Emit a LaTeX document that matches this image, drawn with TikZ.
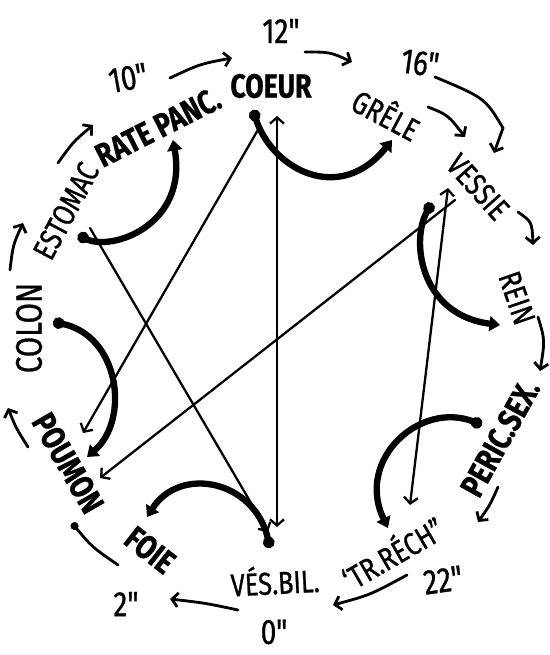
\documentclass[tikz,border=0pt]{standalone}
\usepackage{fontspec}
\usepackage{tikz}
\usetikzlibrary{arrows.meta}
\newfontfamily\handfont[FakeStretch=0.8,FakeBold=0.8]{Fira Sans}
\tikzset{
  every node/.style={inner sep=0pt},
  organ/.style={font=\handfont\fontsize{18}{18}\selectfont},
  organbig/.style={font=\handfont\fontsize{21}{21}\selectfont},
  organbold/.style={font=\handfont\bfseries\fontsize{19}{19}\selectfont},
  hour/.style={font=\handfont\fontsize{20}{20}\selectfont},
  ringedge/.style={black,line width=1.6pt,line cap=round,-{Straight Barb[length=3.5pt,width=8pt]}},
  crossedge/.style={black,line width=1.3pt,line cap=round,-{Straight Barb[length=3.5pt,width=8pt]}},
  crossboth/.style={black,line width=1.3pt,line cap=round,{Straight Barb[length=3.5pt,width=8pt]}-{Straight Barb[length=3.5pt,width=8pt]}},
  pairedge/.style={black,line width=3.6pt,line cap=round,{Circle[length=6.5pt]}-{Triangle[length=6pt,width=8.5pt]}}
}

\begin{document}
\begin{tikzpicture}[x=0.02cm,y=-0.02cm]
\useasboundingbox (0,0) rectangle (550,655);
% organs round the clock
\node[organbold] (coeur) at (271,86) {COEUR};
\node[organbold,rotate=27] (rate) at (158,127) {RATE PANC.};
\node[organ,rotate=62] (estomac) at (66,211) {ESTOMAC};
\node[organbig,rotate=90] (colon) at (29,328) {COLON};
\node[organbold,rotate=-60] (poumon) at (68,463) {POUMON};
\node[organbold,rotate=-38] (foie) at (150,550) {FOIE};
\node[organ,rotate=3] (vesbil) at (275,580) {VÉS.BIL.};
\node[organ,rotate=30] (trrech) at (392,552) {‘TR.RÉCH”};
\node[organbold,rotate=61] (peric) at (500,438) {PERIC.SEX.};
\node[organ,rotate=-71] (rein) at (517,298) {REIN};
\node[organ,rotate=-48] (vessie) at (478,187) {VESSIE};
\node[organ,rotate=-28] (grele) at (387,113) {GRÊLE};
% hours
\node[hour,rotate=10] (h10) at (128,78) {10"};
\node[hour] (h12) at (281,31) {12"};
\node[hour,rotate=-8] (h16) at (420,63) {16"};
\node[hour,rotate=8] (h22) at (443,580) {22"};
\node[hour] (h0) at (274,632) {0"};
\node[hour] (h2) at (126,604) {2"};
% ends of the ring arrows
\coordinate (R1s) at (238,610);  \coordinate (R1e) at (170,599);
\coordinate (R2s) at (118,565);  \coordinate (R2e) at (72,523);
\coordinate (R3s) at (28,447);   \coordinate (R3e) at (8,408);
\coordinate (R4s) at (10,270);   \coordinate (R4e) at (23,223);
\coordinate (R5s) at (58,163);   \coordinate (R5e) at (93,125);
\coordinate (R6s) at (170,78);   \coordinate (R6e) at (232,58);
\coordinate (R7s) at (305,52);   \coordinate (R7e) at (352,62);
\coordinate (R8s) at (428,107);  \coordinate (R8e) at (465,137);
\coordinate (R9s) at (435,77);   \coordinate (R9e) at (494,153);
\coordinate (R10s) at (518,212); \coordinate (R10e) at (533,245);
\coordinate (R11s) at (538,317); \coordinate (R11e) at (540,371);
\coordinate (R12s) at (498,487); \coordinate (R12e) at (478,522);
\coordinate (R13s) at (407,575); \coordinate (R13e) at (333,605);
% ends of the straight lines
\coordinate (Xcoeur1) at (277,116); \coordinate (Xvesbil1) at (277,527);
\coordinate (Xcoeur2) at (259,128); \coordinate (Xpoumon2) at (83,433);
\coordinate (Xestomac) at (90,228); \coordinate (Xvesbil3) at (268,532);
\coordinate (Xvessie4) at (455,200); \coordinate (Xpoumon4) at (100,478);
\coordinate (Xvessie5) at (448,188); \coordinate (Xtrrech5) at (410,505);
% ends of the thick pairs
\coordinate (Pestomac) at (78,235);  \coordinate (Prate) at (173,140);
\coordinate (Pcoeur) at (253,110);   \coordinate (Pgrele) at (392,140);
\coordinate (Pvessie) at (432,203);  \coordinate (Prein) at (500,325);
\coordinate (Pperic) at (482,425);   \coordinate (Ptrrech) at (388,528);
\coordinate (Pcolon) at (53,322);    \coordinate (Ppoumon) at (87,457);
\coordinate (Pvesbil) at (270,548);  \coordinate (Pfoie) at (147,517);
% ring of the day
\draw[ringedge] (R1s) .. controls (205,603) .. (R1e);
\draw[ringedge,-{Circle[length=4.5pt]}] (R2s) .. controls (92,547) .. (R2e);
\draw[ringedge] (R3s) .. controls (16,428) .. (R3e);
\draw[ringedge] (R4s) .. controls (13,245) .. (R4e);
\draw[ringedge] (R5s) .. controls (73,142) .. (R5e);
\draw[ringedge] (R6s) .. controls (200,64) .. (R6e);
\draw[ringedge] (R7s) .. controls (330,52) .. (R7e);
\draw[ringedge] (R8s) .. controls (448,115) .. (R8e);
\draw[ringedge] (R9s) .. controls (485,98) .. (503,128) -- (R9e);
\draw[ringedge] (R10s) .. controls (532,222) .. (R10e);
\draw[ringedge] (R11s) .. controls (545,340) .. (R11e);
\draw[ringedge] (R12s) .. controls (490,505) .. (R12e);
\draw[ringedge] (R13s) .. controls (370,595) .. (R13e);
% straight lines across
\draw[crossboth] (Xcoeur1) -- (Xvesbil1);
\draw[crossedge] (Xcoeur2) -- (Xpoumon2);
\draw[crossedge] (Xestomac) -- (Xvesbil3);
\draw[crossedge] (Xvessie4) -- (Xpoumon4);
\draw[crossboth] (Xvessie5) -- (Xtrrech5);
% thick pairs
\draw[pairedge] (Pestomac) .. controls (112,252) and (188,225) .. (Prate);
\draw[pairedge] (Pcoeur) .. controls (272,170) and (340,205) .. (Pgrele);
\draw[pairedge] (Pvessie) .. controls (410,240) and (420,315) .. (Prein);
\draw[pairedge] (Pperic) .. controls (420,400) and (355,460) .. (Ptrrech);
\draw[pairedge] (Pcolon) .. controls (120,335) and (130,420) .. (Ppoumon);
\draw[pairedge] (Pvesbil) .. controls (255,480) and (180,465) .. (Pfoie);
\end{tikzpicture}
\end{document}
